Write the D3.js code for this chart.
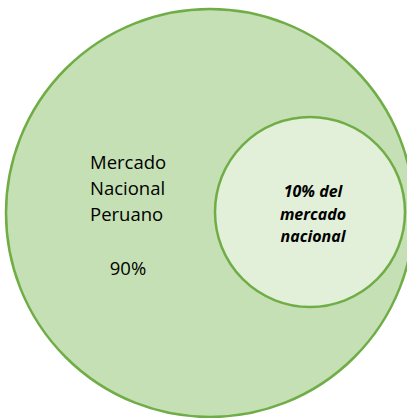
<!DOCTYPE html>
<html>
<head>
  <script src="https://d3js.org/d3.v7.min.js"></script>
  <style>
    body { margin: 0; background: #fff; }
    text { font-family: "Open Sans", "Liberation Sans", sans-serif; fill: #000; }
  </style>
</head>
<body>
  <svg id="canvas" width="407" height="418"></svg>
  <script>
    const svg = d3.select("#canvas");

    // market shares (percent) and their labels
    const segments = ["total", "segment"];
    const shares = [100, 10];
    const outerLabel = ["Mercado", "Nacional", "Peruano"];
    const outerValue = "90%";
    const innerLabel = ["10% del", "mercado", "nacional"];

    // radius from share
    const r = d3.scaleLinear().domain([10, 100]).range([95, 204]);

    const centers = { total: [210, 213], segment: [310, 212] };
    const fills = { total: "#c5e0b4", segment: "#e2f0d9" };

    svg.selectAll("circle")
      .data(segments.map((s, i) => ({ key: s, share: shares[i] })))
      .join("circle")
      .attr("cx", d => centers[d.key][0])
      .attr("cy", d => centers[d.key][1])
      .attr("r", d => r(d.share))
      .attr("fill", d => fills[d.key])
      .attr("stroke", "#70ad47")
      .attr("stroke-width", 2.5);

    // outer label, left aligned
    svg.append("g")
      .selectAll("text")
      .data(outerLabel)
      .join("text")
      .attr("x", 90)
      .attr("y", (d, i) => 169 + i * 26)
      .attr("font-size", 18.5)
      .text(d => d);

    svg.append("text")
      .attr("x", 128)
      .attr("y", 275)
      .attr("text-anchor", "middle")
      .attr("font-size", 18.5)
      .text(outerValue);

    // inner label, bold italic centered
    svg.append("g")
      .selectAll("text")
      .data(innerLabel)
      .join("text")
      .attr("x", 313)
      .attr("y", (d, i) => 197 + i * 22.5)
      .attr("text-anchor", "middle")
      .attr("font-size", 16)
      .attr("font-weight", "bold")
      .attr("font-style", "italic")
      .text(d => d);
  </script>
</body>
</html>
